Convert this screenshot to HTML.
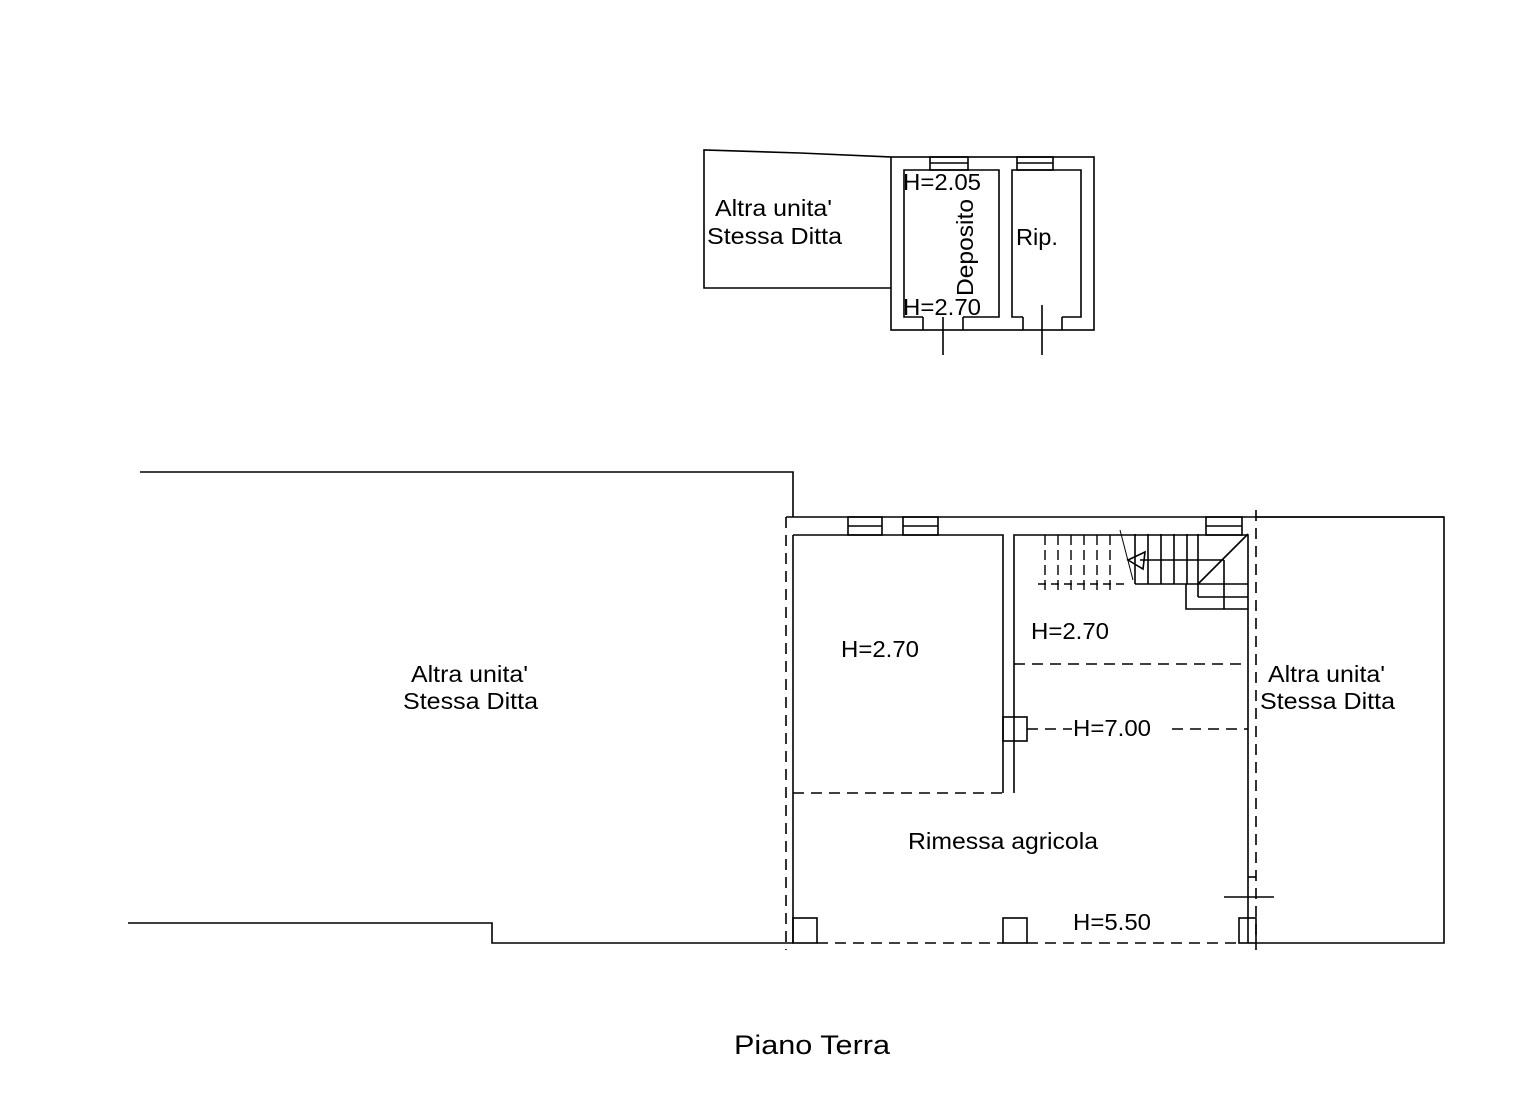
<!DOCTYPE html>
<html><head><meta charset="utf-8"><style>
html,body{margin:0;padding:0;background:#fff;}
svg{display:block;}
text{font-family:"Liberation Sans",Arial,sans-serif;font-size:23px;fill:#000;}
</style></head><body>
<svg width="1520" height="1096" viewBox="0 0 1520 1096" xmlns="http://www.w3.org/2000/svg">
<g stroke="#000" stroke-width="1.6" fill="none">
<polyline points="891,157 800,153 704,150 704,288 891,288"/>
<rect x="891" y="157" width="203" height="173"/>
<polyline points="923,317 904,317 904,170 999,170 999,317 963,317"/>
<line x1="923" y1="317" x2="923" y2="330"/><line x1="963" y1="317" x2="963" y2="330"/>
<polyline points="1023,317 1012,317 1012,170 1081,170 1081,317 1062,317"/>
<line x1="1023" y1="317" x2="1023" y2="330"/><line x1="1062" y1="317" x2="1062" y2="330"/>
<rect x="930" y="157" width="38" height="13"/><line x1="930" y1="163" x2="968" y2="163"/>
<rect x="1017" y="157" width="36" height="13"/><line x1="1017" y1="163" x2="1053" y2="163"/>
<line x1="943" y1="317" x2="943" y2="355"/>
<line x1="1042" y1="305" x2="1042" y2="355"/>

<polyline points="140,472 793,472 793,517"/>
<line x1="786" y1="517" x2="1444" y2="517"/>
<polyline points="1256,517 1444,517 1444,943 1256,943"/>
<line x1="793" y1="535" x2="793" y2="943"/>
<polyline points="793,535 1003,535 1003,793"/>
<polyline points="1014,793 1014,535 1248,535 1248,943"/>
<polyline points="128,923 492,923 492,943 793,943"/>
<rect x="848" y="517" width="34" height="18"/><line x1="848" y1="526" x2="882" y2="526"/>
<rect x="903" y="517" width="35" height="18"/><line x1="903" y1="526" x2="938" y2="526"/>
<rect x="1206" y="517" width="36" height="18"/><line x1="1206" y1="526" x2="1242" y2="526"/>
<rect x="793" y="918" width="24" height="25"/>
<rect x="1003" y="918" width="24" height="25"/>
<rect x="1239" y="918" width="17" height="25"/>
<rect x="1003" y="717" width="24" height="24"/>
<line x1="1224" y1="897" x2="1274" y2="897"/>
<line x1="1248" y1="877" x2="1256" y2="877"/>
<line x1="1135" y1="584" x2="1248" y2="584"/>
<line x1="1135" y1="534" x2="1135" y2="584"/>
<line x1="1148" y1="534" x2="1148" y2="584"/>
<line x1="1161" y1="534" x2="1161" y2="584"/>
<line x1="1174" y1="534" x2="1174" y2="584"/>
<line x1="1187" y1="534" x2="1187" y2="584"/>
<line x1="1198" y1="534" x2="1198" y2="597"/>
<line x1="1198" y1="584" x2="1248" y2="534"/>
<line x1="1140" y1="560" x2="1224" y2="560"/>
<line x1="1224" y1="560" x2="1224" y2="609"/>
<line x1="1198" y1="597" x2="1248" y2="597"/>
<polyline points="1186,584 1186,609 1248,609"/>
<polygon points="1128,560 1145,552 1143,569"/>
<line x1="1120" y1="530" x2="1133" y2="580" stroke-width="1"/>
</g>
<g stroke="#000" stroke-width="1.6" fill="none" stroke-dasharray="11,7">
<line x1="786" y1="517" x2="786" y2="950"/>
<line x1="1256" y1="510" x2="1256" y2="950"/>
<line x1="817" y1="943" x2="1003" y2="943"/>
<line x1="1027" y1="943" x2="1239" y2="943"/>
<line x1="793" y1="793" x2="1003" y2="793"/>
<line x1="1014" y1="664" x2="1248" y2="664"/>
<line x1="1027" y1="729" x2="1072" y2="729"/>
<line x1="1172" y1="729" x2="1248" y2="729"/>
<line x1="1038" y1="584" x2="1128" y2="584" stroke-dasharray="8,5"/>
</g>
<g stroke="#000" stroke-width="1.4" stroke-dasharray="10,5">
<line x1="1045" y1="535" x2="1045" y2="590"/>
<line x1="1058" y1="535" x2="1058" y2="590"/>
<line x1="1071" y1="535" x2="1071" y2="590"/>
<line x1="1084" y1="535" x2="1084" y2="590"/>
<line x1="1097" y1="535" x2="1097" y2="590"/>
<line x1="1110" y1="535" x2="1110" y2="590"/>
</g>
<g lengthAdjust="spacingAndGlyphs">
<text x="715" y="216" textLength="117" lengthAdjust="spacingAndGlyphs">Altra unita'</text>
<text x="707" y="244" textLength="135" lengthAdjust="spacingAndGlyphs">Stessa Ditta</text>
<text x="903" y="190" textLength="78" lengthAdjust="spacingAndGlyphs">H=2.05</text>
<text x="903" y="315" textLength="78" lengthAdjust="spacingAndGlyphs">H=2.70</text>
<text x="1016" y="245" textLength="42" lengthAdjust="spacingAndGlyphs">Rip.</text>
<text transform="translate(973,296) rotate(-90)" textLength="97" lengthAdjust="spacingAndGlyphs">Deposito</text>
<text x="411" y="682" textLength="117" lengthAdjust="spacingAndGlyphs">Altra unita'</text>
<text x="403" y="709" textLength="135" lengthAdjust="spacingAndGlyphs">Stessa Ditta</text>
<text x="1268" y="682" textLength="117" lengthAdjust="spacingAndGlyphs">Altra unita'</text>
<text x="1260" y="709" textLength="135" lengthAdjust="spacingAndGlyphs">Stessa Ditta</text>
<text x="841" y="657" textLength="78" lengthAdjust="spacingAndGlyphs">H=2.70</text>
<text x="1031" y="639" textLength="78" lengthAdjust="spacingAndGlyphs">H=2.70</text>
<text x="1073" y="736" textLength="78" lengthAdjust="spacingAndGlyphs">H=7.00</text>
<text x="908" y="849" textLength="190" lengthAdjust="spacingAndGlyphs">Rimessa agricola</text>
<text x="1073" y="930" textLength="78" lengthAdjust="spacingAndGlyphs">H=5.50</text>
<text x="734" y="1054" style="font-size:27px" textLength="156" lengthAdjust="spacingAndGlyphs">Piano Terra</text>
</g>
</svg>
</body></html>
